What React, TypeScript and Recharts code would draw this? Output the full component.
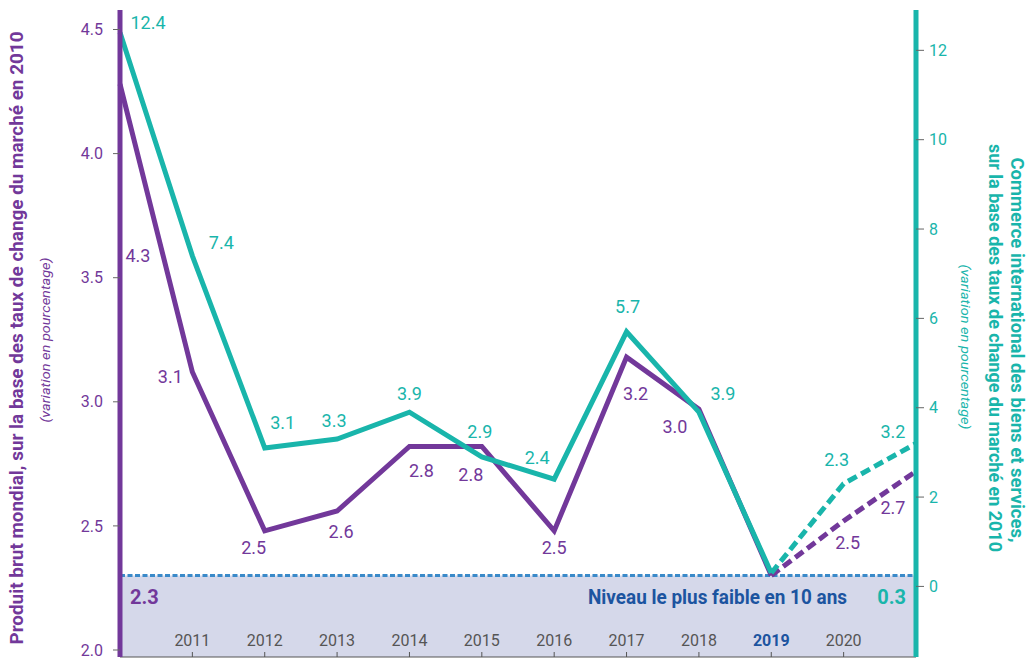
import {
  ComposedChart,
  LabelList,
  Line,
  ReferenceArea,
  ReferenceLine,
  XAxis,
  YAxis,
} from "recharts";

const YEARS = ["2010", "2011", "2012", "2013", "2014", "2015", "2016", "2017", "2018", "2019", "2020", "2021"];
const SHOWN_YEARS = ["2011", "2012", "2013", "2014", "2015", "2016", "2017", "2018", "2019", "2020"];
const LOW_YEAR = "2019";

// PIB mondial (axe gauche) et commerce international (axe droit), en %
const GDP = [4.28, 3.12, 2.48, 2.56, 2.82, 2.82, 2.48, 3.18, 2.97, 2.3, 2.52, 2.72];
const TRADE = [12.4, 7.4, 3.1, 3.3, 3.9, 2.9, 2.4, 5.7, 3.9, 0.3, 2.3, 3.2];

const GDP_TICKS = [2.0, 2.5, 3.0, 3.5, 4.0, 4.5];
const TRADE_TICKS = [0, 2, 4, 6, 8, 10, 12];

const LOW_LABEL = "Niveau le plus faible en 10 ans";
const LEFT_TITLE = "Produit brut mondial, sur la base des taux de change du marché en 2010";
const RIGHT_TITLE_1 = "Commerce international des biens et services,";
const RIGHT_TITLE_2 = "sur la base des taux de change du marché en 2010";
const SUBTITLE = "(variation en pourcentage)";

const PURPLE = "#72389a";
const TEAL = "#19b5ab";
const BLUE = "#1c54a0";
const DOT_BLUE = "#3a8ac9";
const BAND = "#d5d8ea";
const GREY = "#555555";
const FONT = "Roboto, 'Noto Sans', sans-serif";

const GDP_DOMAIN = [1.9718, 4.5786];
const TRADE_DOMAIN = [-1.58, 12.903];

// label placement around each point (dx, dy); null = no label
const GDP_LABEL_POS = [
  [18, 171], [-22, 4], [-11, 17], [4, 21], [12, 24], [-11, 28],
  [0, 17], [9, 36], [-24, 17], null, [4, 22], [-23, 36],
];
const TRADE_LABEL_POS = [
  [28, -10], [29, -13], [18, -25], [-3, -18], [0, -19], [-2, -25],
  [-17, -22], [1, -25], [24, -19], null, [-7, -24], [-23, -12],
];

const lowIndex = YEARS.indexOf(LOW_YEAR);

const data = YEARS.map((year, i) => ({
  year,
  gdp: i <= lowIndex ? GDP[i] : null,
  gdpForecast: i >= lowIndex ? GDP[i] : null,
  trade: i <= lowIndex ? TRADE[i] : null,
  tradeForecast: i >= lowIndex ? TRADE[i] : null,
}));

function makeLabel(positions: (number[] | null)[], color: string) {
  return function PointLabel(props: any) {
    const { x, y, value, index } = props;
    const pos = positions[index];
    if (value == null || !pos || typeof x !== "number") return null;
    return (
      <text
        x={x + pos[0]}
        y={y + pos[1]}
        dy="0.36em"
        textAnchor="middle"
        fill={color}
        fontSize={18}
        fontFamily={FONT}
      >
        {Number(value).toFixed(1)}
      </text>
    );
  };
}

function YearTick(props: any) {
  const { x, y, payload } = props;
  if (!SHOWN_YEARS.includes(payload.value)) return <g />;
  const isLow = payload.value === LOW_YEAR;
  return (
    <g>
      <line x1={x} x2={x} y1={y - 5} y2={y} stroke={GREY} strokeWidth={1} />
      <text
        x={x}
        y={y - 11}
        textAnchor="middle"
        fill={isLow ? BLUE : GREY}
        fontWeight={isLow ? 700 : 400}
        fontSize={16}
        fontFamily={FONT}
      >
        {payload.value}
      </text>
    </g>
  );
}

function BandLabels(props: any) {
  const vb = props.viewBox;
  if (!vb) return null;
  const base = vb.y + 28;
  const right = vb.x + vb.width;
  return (
    <g fontFamily={FONT} fontWeight={700} fontSize={20}>
      <text x={vb.x + 10} y={base} fill={PURPLE}>
        {GDP[lowIndex].toFixed(1)}
      </text>
      <text
        x={right - 69}
        y={base}
        fill={BLUE}
        textAnchor="end"
        textLength={259}
        lengthAdjust="spacingAndGlyphs"
      >
        {LOW_LABEL}
      </text>
      <text x={right - 10} y={base} fill={TEAL} textAnchor="end">
        {TRADE[lowIndex].toFixed(1)}
      </text>
    </g>
  );
}

function LeftTitle() {
  return (
    <g fontFamily={FONT}>
      <text
        transform="translate(17, 338) rotate(-90)"
        textAnchor="middle"
        dy="0.35em"
        fill={PURPLE}
        fontWeight={700}
        fontSize={18}
        textLength={613}
        lengthAdjust="spacingAndGlyphs"
      >
        {LEFT_TITLE}
      </text>
      <text
        transform="translate(45, 340) rotate(-90)"
        textAnchor="middle"
        dy="0.35em"
        fill={PURPLE}
        fontStyle="italic"
        fontSize={13}
        textLength={165}
        lengthAdjust="spacingAndGlyphs"
      >
        {SUBTITLE}
      </text>
    </g>
  );
}

function RightTitle() {
  return (
    <g fontFamily={FONT}>
      <text
        transform="translate(1017, 350) rotate(90)"
        textAnchor="middle"
        dy="0.35em"
        fill={TEAL}
        fontWeight={700}
        fontSize={18}
        textLength={385}
        lengthAdjust="spacingAndGlyphs"
      >
        {RIGHT_TITLE_1}
      </text>
      <text
        transform="translate(995, 348) rotate(90)"
        textAnchor="middle"
        dy="0.35em"
        fill={TEAL}
        fontWeight={700}
        fontSize={18}
        textLength={408}
        lengthAdjust="spacingAndGlyphs"
      >
        {RIGHT_TITLE_2}
      </text>
      <text
        transform="translate(966, 347) rotate(90)"
        textAnchor="middle"
        dy="0.35em"
        fill={TEAL}
        fontStyle="italic"
        fontSize={13}
        textLength={165}
        lengthAdjust="spacingAndGlyphs"
      >
        {SUBTITLE}
      </text>
    </g>
  );
}

export default function App() {
  return (
    <div style={{ position: "absolute", left: 0, top: 0, width: 1035, height: 660, background: "#fff" }}>
      <ComposedChart
        width={1035}
        height={660}
        data={data}
        margin={{ top: 10, right: 0, bottom: 0, left: 0 }}
      >
        <XAxis
          dataKey="year"
          type="category"
          scale="point"
          padding={{ left: 0, right: 0 }}
          height={3}
          tickSize={0}
          tickMargin={0}
          tickLine={false}
          axisLine={{ stroke: GREY, strokeWidth: 1 }}
          tick={YearTick}
          interval={0}
        />
        <YAxis
          yAxisId="gdp"
          orientation="left"
          width={120}
          type="number"
          domain={GDP_DOMAIN}
          allowDataOverflow
          ticks={GDP_TICKS}
          tickFormatter={(v: number) => v.toFixed(1)}
          tick={{ fill: PURPLE, fontSize: 16, fontFamily: FONT }}
          tickLine={{ stroke: "#666" }}
          tickSize={7}
          tickMargin={10}
          axisLine={{ stroke: PURPLE, strokeWidth: 5 }}
          label={{ content: () => <LeftTitle /> }}
        />
        <YAxis
          yAxisId="trade"
          orientation="right"
          width={119}
          type="number"
          domain={TRADE_DOMAIN}
          allowDataOverflow
          ticks={TRADE_TICKS}
          tick={{ fill: TEAL, fontSize: 16, fontFamily: FONT }}
          tickLine={{ stroke: "#666" }}
          tickSize={8}
          tickMargin={5}
          axisLine={{ stroke: TEAL, strokeWidth: 5 }}
          label={{ content: () => <RightTitle /> }}
        />

        <ReferenceArea
          yAxisId="gdp"
          y1={GDP_DOMAIN[0]}
          y2={GDP[lowIndex]}
          fill={BAND}
          fillOpacity={1}
          stroke="none"
          ifOverflow="visible"
          label={<BandLabels />}
        />
        <ReferenceLine
          yAxisId="gdp"
          y={GDP[lowIndex]}
          stroke={DOT_BLUE}
          strokeWidth={3}
          strokeDasharray="5 2.5"
        />

        <Line
          yAxisId="gdp"
          dataKey="gdp"
          stroke={PURPLE}
          strokeWidth={5}
          dot={false}
          activeDot={false}
          isAnimationActive={false}
          strokeLinejoin="miter"
        >
          <LabelList dataKey="gdp" content={makeLabel(GDP_LABEL_POS, PURPLE)} />
        </Line>
        <Line
          yAxisId="gdp"
          dataKey="gdpForecast"
          stroke={PURPLE}
          strokeWidth={5}
          strokeDasharray="10 5"
          dot={false}
          activeDot={false}
          isAnimationActive={false}
        >
          <LabelList dataKey="gdpForecast" content={makeLabel(GDP_LABEL_POS, PURPLE)} />
        </Line>
        <Line
          yAxisId="trade"
          dataKey="trade"
          stroke={TEAL}
          strokeWidth={5}
          dot={false}
          activeDot={false}
          isAnimationActive={false}
          strokeLinejoin="miter"
        >
          <LabelList dataKey="trade" content={makeLabel(TRADE_LABEL_POS, TEAL)} />
        </Line>
        <Line
          yAxisId="trade"
          dataKey="tradeForecast"
          stroke={TEAL}
          strokeWidth={5}
          strokeDasharray="10 5"
          dot={false}
          activeDot={false}
          isAnimationActive={false}
        >
          <LabelList dataKey="tradeForecast" content={makeLabel(TRADE_LABEL_POS, TEAL)} />
        </Line>
      </ComposedChart>
    </div>
  );
}
